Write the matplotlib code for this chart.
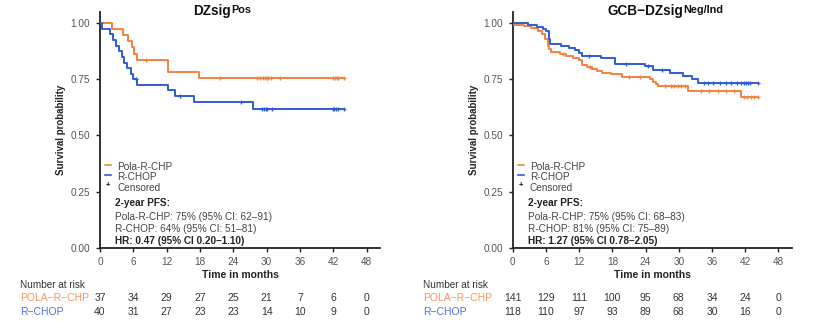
import numpy as np
import matplotlib
matplotlib.use("Agg")
import matplotlib.pyplot as plt
from matplotlib.lines import Line2D
from matplotlib.transforms import blended_transform_factory

plt.rcParams['font.family'] = ['Liberation Sans', 'DejaVu Sans']

ORANGE = '#F5813F'
BLUE = '#2F5BDB'
ORANGE_L = '#F7955E'
BLUE_L = '#4F72D6'
GRAY = '#444444'

# ---------- data: left panel (DZsig Pos) ----------
left_pola_t = [0, 2.2, 4.2, 5.1, 5.7, 6.1, 6.6, 12.3, 17.9]
left_pola_s = [1.0, 0.973, 0.946, 0.919, 0.892, 0.865, 0.838, 0.784, 0.754]
left_pola_end = 44.0
left_pola_cens = [8.2, 21.6, 28.2, 28.8, 29.4, 29.7, 30.0, 30.3, 30.7, 32.4,
                  42.0, 42.3, 42.6, 42.9, 44.0]

left_rchop_t = [0, 0.4, 1.8, 2.3, 2.8, 3.4, 3.9, 4.4, 4.9, 5.5, 6.0, 6.7,
                12.2, 13.5, 17.0, 27.6]
left_rchop_s = [1.0, 0.975, 0.950, 0.925, 0.900, 0.875, 0.850, 0.825, 0.800,
                0.775, 0.750, 0.727, 0.703, 0.677, 0.648, 0.616]
left_rchop_end = 44.0
left_rchop_cens = [6.4, 14.4, 25.3, 29.1, 29.5, 29.8, 30.1, 30.9,
                   41.9, 42.2, 42.5, 42.8, 44.0]

# ---------- data: right panel (GCB-DZsig Neg/Ind) ----------
right_pola_t = [0, 0.3, 2.0, 3.3, 4.5, 5.3, 5.8, 6.3, 6.5, 7.0, 8.5, 9.7,
                10.9, 12.0, 12.6, 13.5, 14.4, 15.3, 16.2, 17.8, 19.8, 24.8,
                25.4, 25.9, 26.3, 31.7, 41.2]
right_pola_s = [1.0, 0.993, 0.986, 0.979, 0.965, 0.950, 0.930, 0.900, 0.885,
                0.870, 0.862, 0.855, 0.845, 0.835, 0.812, 0.803, 0.795, 0.787,
                0.780, 0.773, 0.762, 0.750, 0.740, 0.730, 0.722, 0.698, 0.673]
right_pola_end = 44.3
right_pola_cens = [9.0, 14.0, 21.0, 23.0, 27.5, 28.6, 29.2, 29.8, 30.4, 31.1,
                   34.0, 35.5, 37.0, 38.5, 40.0, 41.8, 42.4, 43.0, 43.6, 44.3]

right_rchop_t = [0, 2.8, 4.3, 5.5, 6.0, 6.5, 6.8, 8.8, 10.1, 11.3, 11.9, 12.5,
                 16.0, 18.5, 23.9, 25.4, 28.4, 30.8, 32.3, 33.5]
right_rchop_s = [1.0, 0.992, 0.983, 0.975, 0.966, 0.930, 0.907, 0.898, 0.889,
                 0.880, 0.866, 0.855, 0.846, 0.820, 0.808, 0.792, 0.778, 0.763,
                 0.750, 0.735]
right_rchop_end = 44.3
right_rchop_cens = [13.7, 20.5, 24.5, 27.0, 34.5, 35.3, 36.1, 37.5, 38.5,
                    39.5, 40.5, 41.2, 41.7, 42.1, 42.5, 42.9, 44.3]

ticks_x = [0, 6, 12, 18, 24, 30, 36, 42, 48]
ticks_y = [0.00, 0.25, 0.50, 0.75, 1.00]

left_risk_pola = [37, 34, 29, 27, 25, 21, 7, 6, 0]
left_risk_rchop = [40, 31, 27, 23, 23, 14, 10, 9, 0]
right_risk_pola = [141, 129, 111, 100, 95, 68, 34, 24, 0]
right_risk_rchop = [118, 110, 97, 93, 89, 68, 30, 16, 0]

left_title = ("DZsig", "Pos")
right_title = ("GCB\u2212DZsig", "Neg/Ind")
left_pfs = ["Pola-R-CHP: 75% (95% CI: 62\u201391)",
            "R-CHOP: 64% (95% CI: 51\u201381)",
            "HR: 0.47 (95% CI 0.20\u20131.10)"]
right_pfs = ["Pola-R-CHP: 75% (95% CI: 68\u201383)",
             "R-CHOP: 81% (95% CI: 75\u201389)",
             "HR: 1.27 (95% CI 0.78\u20132.05)"]

W, H = 831, 321
fig = plt.figure(figsize=(W / 100, H / 100), dpi=100)
renderer = fig.canvas.get_renderer()


def fx(px):
    return px / W


def fy(py):
    return 1 - py / H


def km(ax, t, s, end, cens, color):
    tt = list(t) + [end]
    ss = list(s) + [s[-1]]
    ax.step(tt, ss, where='post', color=color, lw=1.4, zorder=3)
    idx = np.searchsorted(np.array(t), np.array(cens), side='right') - 1
    cy = np.array(s)[idx]
    ax.plot(cens, cy, ls='none', marker='+', ms=3.5, mew=0.9, color=color, zorder=4)


def title_text(main, sup, center_px):
    t1 = fig.text(0, fy(15.5), main, ha='left', va='baseline', fontsize=9.8,
                  fontweight='bold', color='#111111')
    t2 = fig.text(0, fy(13), sup, ha='left', va='baseline', fontsize=7.8,
                  fontweight='bold', color='#111111')
    w1 = t1.get_window_extent(renderer).width
    w2 = t2.get_window_extent(renderer).width
    start = center_px - (w1 + w2) / 2
    t1.set_x(fx(start))
    t2.set_x(fx(start + w1 + 0.5))


def panel(x0, x1, data, title, title_px, pfs, risk, leg_px, pfs_px, lab_px):
    ax = fig.add_axes([fx(x0), fy(247.7), fx(x1 - x0), (247.7 - 12) / H])
    for (t, s, e, c, col) in data:
        km(ax, t, s, e, c, col)
    ax.set_xlim(0, 50.4)
    ax.set_ylim(0, 1.05)
    ax.set_xticks(ticks_x)
    ax.set_yticks(ticks_y)
    ax.set_yticklabels([f"{v:.2f}" for v in ticks_y])
    for sp in ['top', 'right']:
        ax.spines[sp].set_visible(False)
    for sp in ['left', 'bottom']:
        ax.spines[sp].set_linewidth(1.3)
        ax.spines[sp].set_color('#222222')
    ax.tick_params(axis='both', length=3, width=1.0, color='#222222',
                   labelsize=7.2, labelcolor='#555555', pad=4)
    ax.set_xlabel("Time in months", fontsize=7.5, fontweight='bold',
                  color='#222222', labelpad=2)
    ax.set_ylabel("Survival probability", fontsize=7, fontweight='bold',
                  color='#222222', labelpad=3)
    title_text(title[0], title[1], title_px)
    # legend
    mx, tx = leg_px
    for i, (lab, col) in enumerate([("Pola-R-CHP", ORANGE), ("R-CHOP", BLUE)]):
        yy = 167 + 10.5 * i
        fig.add_artist(Line2D([fx(mx - 3), fx(mx + 3)], [fy(yy - 2.5), fy(yy - 2.5)],
                              color=col, lw=1.2, transform=fig.transFigure))
        fig.text(fx(tx), fy(yy), lab, ha='left', va='center', fontsize=7.2, color=GRAY)
    fig.text(fx(mx), fy(186), "+", ha='center', va='center', fontsize=5.5,
             color='#111111', fontweight='bold')
    fig.text(fx(tx), fy(188), "Censored", ha='left', va='center', fontsize=7.2, color=GRAY)
    # pfs text
    px0 = pfs_px
    fig.text(fx(px0), fy(203.5), "2-year PFS:", ha='left', va='center',
             fontsize=7.2, fontweight='bold', color='#222222')
    fig.text(fx(px0), fy(216.5), pfs[0], ha='left', va='center', fontsize=7.2, color=GRAY)
    fig.text(fx(px0), fy(228.5), pfs[1], ha='left', va='center', fontsize=7.2, color=GRAY)
    fig.text(fx(px0), fy(240.5), pfs[2], ha='left', va='center', fontsize=7.2,
             fontweight='bold', color='#222222')
    # risk table
    tr = blended_transform_factory(ax.transData, fig.transFigure)
    fig.text(fx(lab_px), fy(285), "Number at risk", ha='left', va='center',
             fontsize=7.2, color='#333333')
    fig.text(fx(lab_px), fy(298), "POLA\u2212R\u2212CHP", ha='left', va='center',
             fontsize=7.5, color=ORANGE_L)
    fig.text(fx(lab_px), fy(312), "R\u2212CHOP", ha='left', va='center',
             fontsize=7.5, color=BLUE_L)
    for x, a, b in zip(ticks_x, risk[0], risk[1]):
        ax.text(x, fy(298), str(a), transform=tr, ha='center', va='center',
                fontsize=7.5, color='#333333')
        ax.text(x, fy(312), str(b), transform=tr, ha='center', va='center',
                fontsize=7.5, color='#333333')
    return ax


panel(100, 380,
      [(left_pola_t, left_pola_s, left_pola_end, left_pola_cens, ORANGE),
       (left_rchop_t, left_rchop_s, left_rchop_end, left_rchop_cens, BLUE)],
      left_title, 222, left_pfs, (left_risk_pola, left_risk_rchop),
      (108, 117), 115, 20)

panel(512.7, 791.7,
      [(right_pola_t, right_pola_s, right_pola_end, right_pola_cens, ORANGE),
       (right_rchop_t, right_rchop_s, right_rchop_end, right_rchop_cens, BLUE)],
      right_title, 665, right_pfs, (right_risk_pola, right_risk_rchop),
      (521, 530), 527.5, 423)

fig.savefig("out.png", dpi=100, facecolor='white')
